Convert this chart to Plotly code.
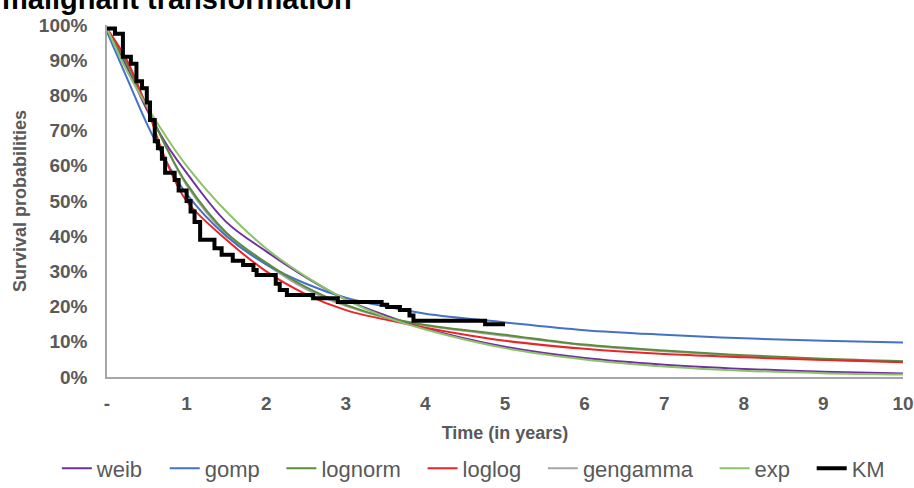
import plotly.graph_objects as go

# fitted survival curves (percent)
years = [0, 0.25, 0.5, 0.75, 1, 1.5, 2, 2.5, 3, 3.5, 4, 5, 6, 7, 8, 9, 10]
weib = [99, 88, 76, 66, 58, 44, 35.7, 28.3, 22, 17.5, 13.8, 8.6, 5.4, 3.5, 2.3, 1.5, 1.0]
gomp = [98, 85, 72, 61, 52, 40, 32, 26.5, 22.5, 20, 18, 15.5, 13.3, 12, 11, 10.3, 9.8]
lognorm = [99, 89, 77, 65, 55, 41, 32.5, 25.5, 20.5, 17, 14.8, 12, 9.2, 7.5, 6.2, 5.2, 4.5]
loglog = [99, 90, 76.5, 61, 50, 39, 30, 23.5, 19, 16.3, 14, 10.3, 8.0, 6.5, 5.6, 4.8, 4.2]
gengamma = [99, 89, 77, 65, 54.5, 40.5, 32, 25, 20.2, 16.8, 14.6, 11.7, 9.0, 7.3, 6.0, 5.0, 4.4]
expo = [99, 87, 77, 68, 60, 47, 36.5, 28.5, 22, 17, 13.5, 8.2, 5, 3, 1.8, 1.1, 0.7]

# Kaplan-Meier steps
km_t = [0, 0.1, 0.2, 0.3, 0.37, 0.44, 0.5, 0.54, 0.6, 0.64, 0.69, 0.73, 0.85, 0.9, 1.0,
        1.05, 1.1, 1.17, 1.35, 1.44, 1.58, 1.71, 1.84, 1.88, 2.12, 2.17, 2.26, 2.59, 2.9,
        3.45, 3.52, 3.68, 3.8, 3.85, 4.75, 5.0]
km_s = [99, 97.5, 91, 89, 84, 82, 78, 73, 67, 65, 62, 58, 56, 53, 50,
        47, 44, 39, 36.6, 34.7, 33, 31.8, 30.4, 29, 26.5, 24.7, 23.3, 22.4, 21.3,
        20.5, 19.9, 19, 17.5, 16, 15, 15]

xticks = [0, 1, 2, 3, 4, 5, 6, 7, 8, 9, 10]
xlabels = ["-", "1", "2", "3", "4", "5", "6", "7", "8", "9", "10"]

grey = "#595959"
fnt = "Liberation Sans, Arial"
pad = "&nbsp;&nbsp;&#8201;"  # extra room after each legend label, like the original

fig = go.Figure()
# gengamma drawn first so it sits under the others
fig.add_trace(go.Scatter(x=years, y=gengamma, name="gengamma" + pad, mode="lines", line_shape="spline",
                         line=dict(color="#A5A5A5", width=2), legendrank=5))
series = [("weib", weib, "#7030A0", 1), ("gomp", gomp, "#4472C4", 2),
          ("lognorm", lognorm, "#5B8E3C", 3), ("loglog", loglog, "#E8262A", 4),
          ("exp", expo, "#8CC36A", 6)]
for name, vals, col, rank in series:
    fig.add_trace(go.Scatter(x=years, y=vals, name=name + pad, mode="lines", line_shape="spline",
                             line=dict(color=col, width=2), legendrank=rank))
fig.add_trace(go.Scatter(x=km_t, y=km_s, name="KM", mode="lines", line_shape="hv",
                         line=dict(color="black", width=4), legendrank=7))

fig.update_layout(
    width=914, height=488,
    margin=dict(l=107, r=11, t=25, b=111, autoexpand=False),
    plot_bgcolor="white", paper_bgcolor="white",
    font=dict(family=fnt, color=grey),
    showlegend=True,
    legend=dict(orientation="h", x=-0.063, xanchor="left", y=-0.26, yanchor="middle",
                font=dict(family=fnt, size=22, color=grey), traceorder="normal"),
    xaxis=dict(range=[0, 10], tickvals=xticks, ticktext=xlabels, showgrid=False, zeroline=False,
               showline=True, linecolor="#A6A6A6", linewidth=1.5, ticks="", automargin=False,
               ticklabelstandoff=8,
               tickfont=dict(size=19, color=grey, family=fnt, weight="bold"),
               title=dict(text="<b>Time (in years)</b>", font=dict(size=18, color=grey), standoff=14)),
    yaxis=dict(range=[0, 100], dtick=10, ticksuffix="%", showgrid=False, zeroline=False,
               showline=True, linecolor="#A6A6A6", linewidth=1.5, ticks="", automargin=False,
               ticklabelstandoff=14,
               tickfont=dict(size=19, color=grey, family=fnt, weight="bold"),
               title=dict(text="<b>Survival probabilities</b>", font=dict(size=18, color=grey), standoff=8)),
    annotations=[dict(text="<b>malignant transformation</b>", xref="paper", yref="paper",
                      x=0, xshift=-107, y=1, yshift=8, xanchor="left", yanchor="bottom",
                      showarrow=False, font=dict(size=29, color="black", family=fnt))],
)

fig.write_html("out.html", config={"displayModeBar": False},
               post_script="document.body.style.margin='0px';")
